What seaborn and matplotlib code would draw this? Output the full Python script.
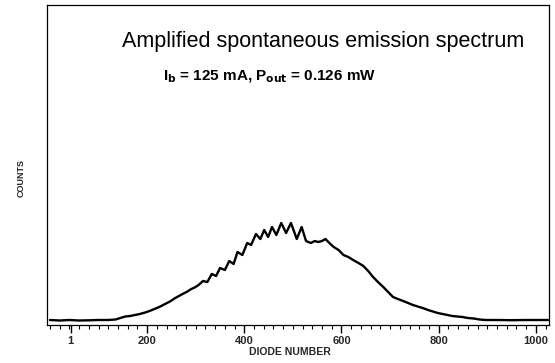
import matplotlib
matplotlib.use("Agg")
import matplotlib.pyplot as plt
import seaborn as sns
import pandas as pd
from matplotlib.ticker import MultipleLocator

# ---- data ----
diode = [0, 20, 40, 60, 80, 100, 120, 135, 145, 155, 165, 175, 185, 196, 205, 215, 225,
         237, 247, 258, 271, 283, 291, 298, 306, 315, 324, 333, 342, 350, 360, 369, 378,
         386, 396, 406, 414, 424, 433, 441, 449, 457, 466, 476, 486, 496, 508, 518, 527,
         537, 545, 552, 560, 567, 575, 584, 594, 604, 614, 624, 635, 645, 655, 665, 675,
         686, 696, 706, 716, 727, 737, 747, 757, 767, 778, 788, 798, 808, 818, 828, 838,
         849, 860, 872, 884, 896, 920, 950, 980, 1000, 1025]
counts = [50, 45, 50, 45, 47, 50, 50, 55, 70, 85, 90, 100, 110, 125, 140, 160, 180,
          210, 235, 270, 305, 335, 360, 375, 400, 440, 430, 510, 490, 570, 550, 640, 610,
          730, 700, 820, 800, 910, 860, 950, 880, 980, 900, 1020, 920, 1020, 860, 980, 840,
          820, 840, 830, 840, 860, 820, 780, 750, 700, 680, 650, 620, 590, 540, 480, 430,
          380, 330, 280, 260, 240, 220, 200, 185, 170, 150, 135, 120, 110, 100, 90, 85,
          80, 70, 65, 55, 50, 50, 48, 50, 50, 50]

xtick_pos = [43, 200, 400, 600, 800, 1000]
xtick_labels = ["1", "200", "400", "600", "800", "1000"]

title_text = "Amplified spontaneous emission spectrum"
sub_text = r"I$_\mathbf{b}$ = 125 mA, P$_\mathbf{out}$ = 0.126 mW"

df = pd.DataFrame({"diode": diode, "counts": counts})

sns.set_theme(style="white")
plt.rcParams["font.family"] = ["Liberation Sans", "DejaVu Sans"]

fig = plt.figure(figsize=(5.55, 3.63), dpi=100)
ax = fig.add_axes([47 / 555, 1 - 325 / 363, (549 - 47) / 555, (325 - 5) / 363])

sns.lineplot(data=df, x="diode", y="counts", ax=ax, color="black", linewidth=1.7)

ax.set_xlim(-6, 1027)
ax.set_ylim(0, 3200)
ax.set_yticks([])
ax.set_xticks(xtick_pos)
ax.set_xticklabels(xtick_labels, fontsize=8, fontweight="bold")
ax.xaxis.set_minor_locator(MultipleLocator(20))
ax.tick_params(axis="x", which="major", direction="out", length=6, width=1,
               color="black", bottom=True, pad=2)
ax.tick_params(axis="x", which="minor", direction="out", length=3, width=0.8,
               color="black", bottom=True)
ax.set_xlabel("")
ax.set_ylabel("")
for s in ax.spines.values():
    s.set_color("black")
    s.set_linewidth(0.9)
    s.set_visible(True)

ax.text(0.55, 0.885, title_text, transform=ax.transAxes, ha="center", va="center",
        fontsize=15.5, color="black")
ax.text(0.444, 0.775, sub_text, transform=ax.transAxes, ha="center", va="center",
        fontsize=11, fontweight="bold", color="black")

fig.text(290 / 555, 1 - 352 / 363, "DIODE NUMBER", ha="center", va="center",
         fontsize=7.5, fontweight="bold")
fig.text(21 / 555, 1 - 178 / 363, "COUNTS", ha="center", va="center",
         rotation=90, fontsize=6.5, fontweight="bold")

fig.savefig("out.png", dpi=100, facecolor="white")
